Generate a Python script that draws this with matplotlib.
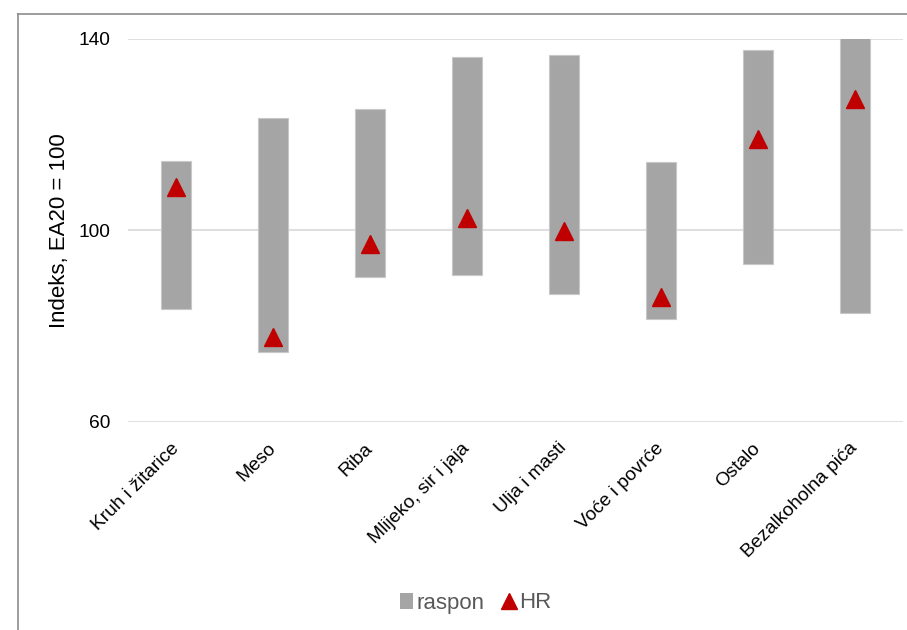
import matplotlib
matplotlib.use("Agg")
import matplotlib.pyplot as plt
from matplotlib.lines import Line2D
from matplotlib.patches import Patch

categories = ["Kruh i žitarice", "Meso", "Riba", "Mlijeko, sir i jaja",
              "Ulja i masti", "Voće i povrće", "Ostalo", "Bezalkoholna pića"]
range_low = [83.7, 74.6, 90.3, 90.6, 86.8, 81.6, 93.1, 82.7]
range_high = [114.5, 123.4, 125.3, 136.3, 136.7, 114.4, 137.6, 141.0]
hr_values = [109.1, 77.8, 97.1, 102.7, 99.8, 86.2, 119.1, 127.4]
y_ticks = [60, 100, 140]

plt.rcParams['font.family'] = ['Liberation Sans', 'DejaVu Sans']

fig = plt.figure(figsize=(9.07, 6.30), dpi=100)
ax = fig.add_axes([0.1411, 0.3302, 0.9961 - 0.1411, 0.9381 - 0.3302])

x = list(range(len(categories)))
heights = [h - l for h, l in zip(range_high, range_low)]
ax.bar(x, heights, bottom=range_low, width=0.31, color="#a5a5a5",
       edgecolor="#c8c8c8", linewidth=0.8, zorder=2, label="raspon")
ax.plot(x, hr_values, linestyle="none", marker="^", markersize=12.5,
        color="#c00000", zorder=3, label="HR")

ax.set_xlim(-0.5, len(categories) - 0.5)
ax.set_ylim(60, 140)
ax.set_yticks(y_ticks)
ax.set_yticklabels([str(v) for v in y_ticks])
ax.yaxis.grid(True, color="#d9d9d9", linewidth=1.2, zorder=0)
ax.set_axisbelow(True)
for s in ax.spines.values():
    s.set_visible(False)
ax.tick_params(axis="both", length=0, labelsize=13.8, colors="black")
ax.tick_params(axis="y", pad=13)
ax.set_xticks(x)
ax.set_xticklabels(categories, rotation=45, ha="right", va="center",
                   rotation_mode="anchor")
ax.tick_params(axis="x", pad=17)
ax.set_ylabel("Indeks, EA20 = 100", fontsize=16, labelpad=6)

handles = [Patch(facecolor="#a5a5a5", edgecolor="none"),
           Line2D([], [], linestyle="none", marker="^", markersize=12,
                  color="#c00000")]
leg = fig.legend(handles, ["raspon", "HR"], loc="center",
                 bbox_to_anchor=(476 / 907, 1 - 603 / 630), ncol=2,
                 frameon=False, fontsize=16, handlelength=0.55,
                 handletextpad=0.2, columnspacing=0.8)
for t in leg.get_texts():
    t.set_color("#595959")

# outer frame (partially cropped in reference)
fig.add_artist(Line2D([18 / 907, 18 / 907], [0, 1 - 14 / 630],
                      transform=fig.transFigure, color="#8c8c8c", linewidth=1.2))
fig.add_artist(Line2D([18 / 907, 1], [1 - 14 / 630, 1 - 14 / 630],
                      transform=fig.transFigure, color="#8c8c8c", linewidth=1.2))

fig.savefig("out.png", dpi=100)
